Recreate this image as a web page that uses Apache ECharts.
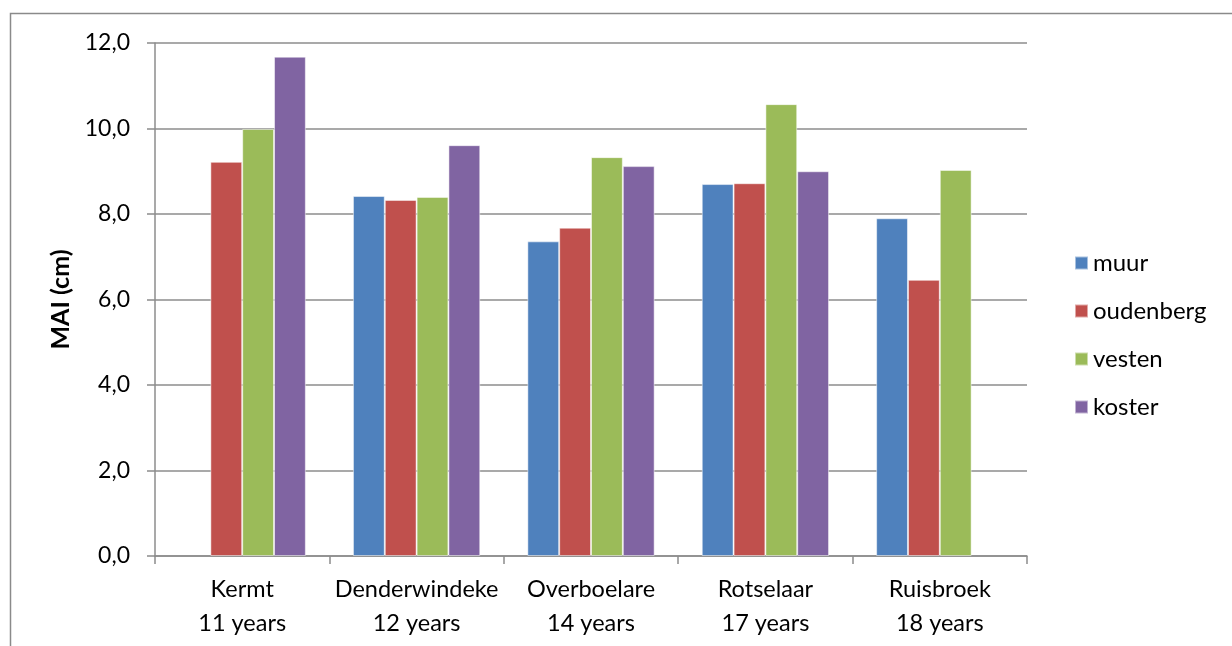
<!DOCTYPE html>
<html><head><meta charset="utf-8">
<script src="https://cdn.jsdelivr.net/npm/echarts@6/dist/echarts.min.js"></script>
<style>html,body{margin:0;padding:0;background:#fff}#c{width:1232px;height:646px}</style>
</head><body><div id="c"></div>
<script>
const categories = ['Kermt\n11 years','Denderwindeke\n12 years','Overboelare\n14 years','Rotselaar\n17 years','Ruisbroek\n18 years'];
const muur = [null, 8.42, 7.36, 8.70, 7.90];
const oudenberg = [9.22, 8.33, 7.68, 8.72, 6.46];
const vesten = [9.99, 8.40, 9.33, 10.57, 9.03];
const koster = [11.68, 9.61, 9.12, 9.00, null];
const seriesNames = ['muur','oudenberg','vesten','koster'];
const colors = ['#4F81BD','#C0504D','#9BBB59','#8064A2'];
const font = 'Lato, "Open Sans", sans-serif';
const chart = echarts.init(document.getElementById('c'));
const data = [muur, oudenberg, vesten, koster];
chart.setOption({
  animation:false,
  color: colors,
  graphic:[{type:'rect', shape:{x:10.5,y:13.5,width:1400,height:800}, style:{fill:null, stroke:'#8a8a8a', lineWidth:1.5}, silent:true}],
  grid:{left:155, right:205, top:43, bottom:90},
  legend:{orient:'vertical', left:1069, top:246, itemGap:24, itemWidth:13, itemHeight:13, itemTextGap:8, icon:'rect',
    data: seriesNames, textStyle:{fontFamily:font, fontSize:24, lineHeight:24, color:'#000'}},
  xAxis:{type:'category', data:categories,
    axisLine:{lineStyle:{color:'#8c8c8c', width:1.5}},
    axisTick:{show:true, length:8, lineStyle:{color:'#8c8c8c', width:1.5}},
    axisLabel:{interval:0, fontFamily:font, fontSize:23.5, color:'#000', lineHeight:34, margin:16}},
  yAxis:{type:'value', min:0, max:12, interval:2,
    name:'MAI (cm)', nameLocation:'middle', nameGap:82, nameRotate:90,
    nameTextStyle:{fontFamily:font, fontSize:25, fontWeight:'bold', color:'#000'},
    axisLine:{show:true, lineStyle:{color:'#8c8c8c', width:1.5}},
    axisTick:{show:true, length:8, lineStyle:{color:'#8c8c8c', width:1.5}},
    splitLine:{lineStyle:{color:'#8c8c8c', width:1.5}},
    axisLabel:{fontFamily:font, fontSize:23, color:'#000', margin:25,
      formatter: v => v.toFixed(1).replace('.', ',')}},
  series: seriesNames.map((n,i)=>({name:n, type:'bar', data:data[i], barGap:'0%', barCategoryGap:'27%',
    itemStyle:{color:colors[i], borderColor:'rgba(255,255,255,0.5)', borderWidth:1}}))
});
</script></body></html>
